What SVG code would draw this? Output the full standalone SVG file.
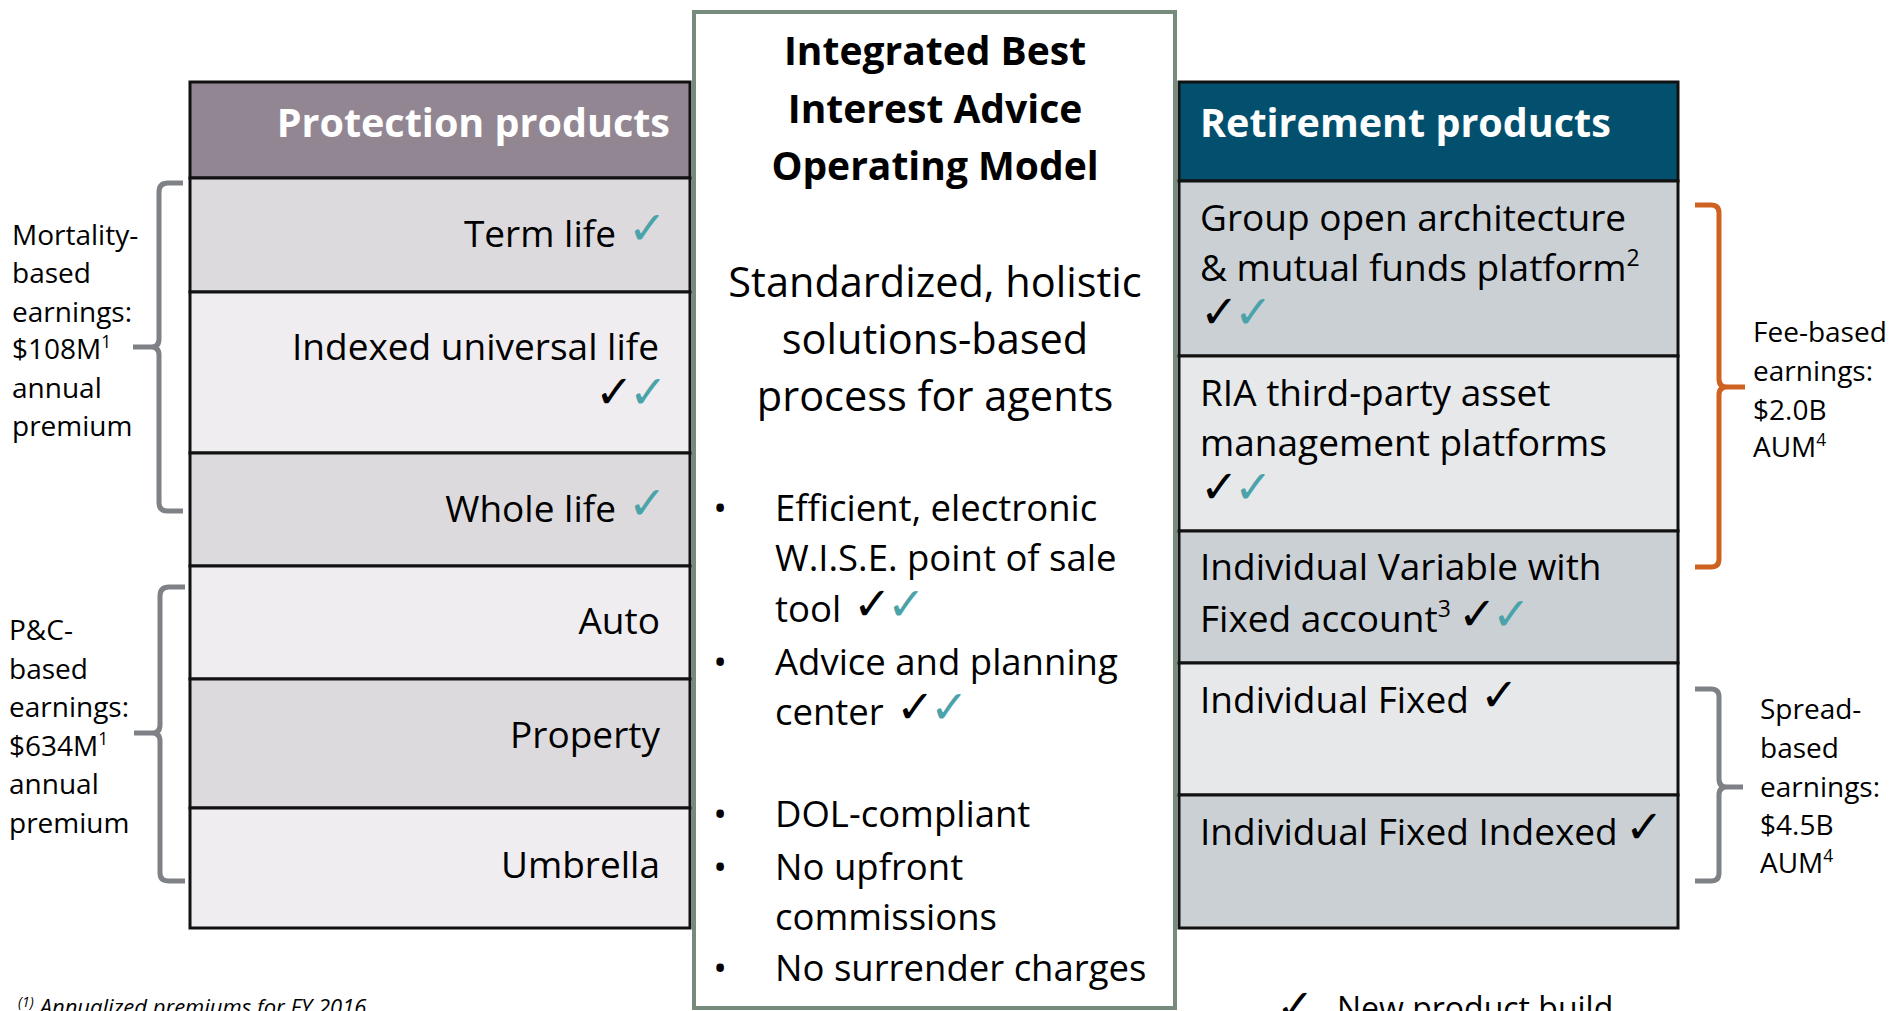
<svg xmlns="http://www.w3.org/2000/svg" width="1889" height="1011" viewBox="0 0 1889 1011">
  <style>
    text { font-family: "Open Sans", "Liberation Sans", sans-serif; fill: #000; }
    .cell { stroke: #111; stroke-width: 3; }
    .hdrL { fill: #928692; }
    .hdrR { fill: #02506E; }
    .ldark { fill: #DCDADD; }
    .llight { fill: #EFEDF0; }
    .rdark { fill: #CBD0D5; }
    .rlight { fill: #E7E8EA; }
    .hdrtxt { font-weight: bold; font-size: 39.5px; fill: #fff; }
    .item { font-size: 37px; }
    .side { font-size: 28px; }
    .title { font-weight: bold; font-size: 39px; }
    .intro { font-size: 41.5px; }
    .bul { font-size: 36.5px; }
    .sup { font-size: 0.62em; }
    .ck { font-family: "DejaVu Sans", sans-serif; font-size: 46px; fill: #000; }
    .pair { letter-spacing: -5px; }
    .ckt { font-family: "DejaVu Sans", sans-serif; font-size: 46px; font-weight: 200; fill: #4BA3AA; }
    .brace { fill: none; stroke-width: 5; stroke-linecap: butt; stroke-linejoin: round; }
    .gray { stroke: #7E8286; }
    .orange { stroke: #CF6220; }
  </style>

  <rect width="1889" height="1011" fill="#fff"/>

  <!-- Protection products table -->
  <g id="protection">
    <rect class="cell hdrL" x="190" y="82" width="500" height="96"/>
    <text class="hdrtxt" x="670" y="137" text-anchor="end">Protection products</text>
  </g>
  <g id="term-life">
    <rect class="cell ldark" x="190" y="178" width="500" height="114"/>
    <text class="item" x="616" y="247" text-anchor="end">Term life<tspan class="ckt" x="628" y="244" text-anchor="start">✓</tspan></text>
  </g>
  <g id="indexed-universal-life">
    <rect class="cell llight" x="190" y="292" width="500" height="161"/>
    <text class="item" x="659" y="360" text-anchor="end">Indexed universal life<tspan class="ck pair" x="595" y="408" text-anchor="start">✓</tspan><tspan class="ckt">✓</tspan></text>
  </g>
  <g id="whole-life">
    <rect class="cell ldark" x="190" y="453" width="500" height="113"/>
    <text class="item" x="616" y="522" text-anchor="end">Whole life<tspan class="ckt" x="628" y="519" text-anchor="start">✓</tspan></text>
  </g>
  <g id="auto">
    <rect class="cell llight" x="190" y="566" width="500" height="113"/>
    <text class="item" x="660" y="634" text-anchor="end">Auto</text>
  </g>
  <g id="property">
    <rect class="cell ldark" x="190" y="679" width="500" height="129"/>
    <text class="item" x="660" y="748" text-anchor="end">Property</text>
  </g>
  <g id="umbrella">
    <rect class="cell llight" x="190" y="808" width="500" height="120"/>
    <text class="item" x="660" y="878" text-anchor="end">Umbrella</text>
  </g>

  <!-- Retirement products table -->
  <g id="retirement">
    <rect class="cell hdrR" x="1179" y="82" width="499" height="99"/>
    <text class="hdrtxt" x="1200" y="137">Retirement products</text>
  </g>
  <g id="group-open-architecture">
    <rect class="cell rdark" x="1179" y="181" width="499" height="175"/>
    <text class="item" x="1200" y="231">Group open architecture<tspan x="1200" y="281">&amp; mutual funds platform</tspan><tspan class="sup" dy="-15">2</tspan><tspan class="ck pair" x="1200" y="328">✓</tspan><tspan class="ckt">✓</tspan></text>
  </g>
  <g id="ria-platforms">
    <rect class="cell rlight" x="1179" y="356" width="499" height="175"/>
    <text class="item" x="1200" y="406">RIA third-party asset<tspan x="1200" y="456">management platforms</tspan><tspan class="ck pair" x="1200" y="503">✓</tspan><tspan class="ckt">✓</tspan></text>
  </g>
  <g id="individual-variable">
    <rect class="cell rdark" x="1179" y="531" width="499" height="132"/>
    <text class="item" x="1200" y="580">Individual Variable with<tspan x="1200" y="632">Fixed account</tspan><tspan class="sup" dy="-15">3</tspan><tspan class="ck pair" x="1458" y="630">✓</tspan><tspan class="ckt">✓</tspan></text>
  </g>
  <g id="individual-fixed">
    <rect class="cell rlight" x="1179" y="663" width="499" height="132"/>
    <text class="item" x="1200" y="713">Individual Fixed<tspan class="ck" x="1480" y="711">✓</tspan></text>
  </g>
  <g id="individual-fixed-indexed">
    <rect class="cell rdark" x="1179" y="795" width="499" height="133"/>
    <text class="item" x="1200" y="845">Individual Fixed Indexed<tspan class="ck" x="1625" y="843">✓</tspan></text>
  </g>

  <!-- Central operating model panel -->
  <g id="operating-model">
    <rect x="694" y="12" width="481" height="996" fill="#fff" stroke="#778B7C" stroke-width="4"/>
    <text class="title" x="935" y="65" text-anchor="middle">Integrated Best</text>
    <text class="title" x="935" y="123" text-anchor="middle">Interest Advice</text>
    <text class="title" x="935" y="180" text-anchor="middle">Operating Model</text>
    <text class="intro" x="935" y="297" text-anchor="middle">Standardized, holistic</text>
    <text class="intro" x="935" y="354" text-anchor="middle">solutions-based</text>
    <text class="intro" x="935" y="411" text-anchor="middle">process for agents</text>
    <g class="bul">
      <text x="720" y="521" text-anchor="middle">•</text>
      <text x="775" y="521">Efficient, electronic</text>
      <text x="775" y="571">W.I.S.E. point of sale</text>
      <text x="775" y="622">tool<tspan class="ck pair" x="853" y="620">✓</tspan><tspan class="ckt">✓</tspan></text>
      <text x="720" y="675" text-anchor="middle">•</text>
      <text x="775" y="675">Advice and planning</text>
      <text x="775" y="725">center<tspan class="ck pair" x="896" y="723">✓</tspan><tspan class="ckt">✓</tspan></text>
      <text x="720" y="827" text-anchor="middle">•</text>
      <text x="775" y="827">DOL-compliant</text>
      <text x="720" y="880" text-anchor="middle">•</text>
      <text x="775" y="880">No upfront</text>
      <text x="775" y="930">commissions</text>
      <text x="720" y="981" text-anchor="middle">•</text>
      <text x="775" y="981">No surrender charges</text>
    </g>
  </g>

  <!-- Earnings labels -->
  <g id="mortality-label">
    <text class="side" x="12" y="245">Mortality-</text>
    <text class="side" x="12" y="283">based</text>
    <text class="side" x="12" y="322">earnings:</text>
    <text class="side" x="12" y="359">$108M<tspan class="sup" dy="-11">1</tspan></text>
    <text class="side" x="12" y="398">annual</text>
    <text class="side" x="12" y="436">premium</text>
  </g>
  <g id="pc-label">
    <text class="side" x="9" y="640">P&amp;C-</text>
    <text class="side" x="9" y="679">based</text>
    <text class="side" x="9" y="717">earnings:</text>
    <text class="side" x="9" y="756">$634M<tspan class="sup" dy="-11">1</tspan></text>
    <text class="side" x="9" y="794">annual</text>
    <text class="side" x="9" y="833">premium</text>
  </g>
  <g id="fee-label">
    <text class="side" x="1753" y="342">Fee-based</text>
    <text class="side" x="1753" y="381">earnings:</text>
    <text class="side" x="1753" y="420">$2.0B</text>
    <text class="side" x="1753" y="457">AUM<tspan class="sup" dy="-11">4</tspan></text>
  </g>
  <g id="spread-label">
    <text class="side" x="1760" y="719">Spread-</text>
    <text class="side" x="1760" y="758">based</text>
    <text class="side" x="1760" y="797">earnings:</text>
    <text class="side" x="1760" y="835">$4.5B</text>
    <text class="side" x="1760" y="873">AUM<tspan class="sup" dy="-11">4</tspan></text>
  </g>

  <!-- Braces grouping rows -->
  <g id="braces">
    <path class="brace gray" d="M183,183 H168 Q159,183 159,192 V339 Q159,347 151,347 H133 M151,347 Q159,347 159,355 V503 Q159,511 168,511 H183"/>
    <path class="brace gray" d="M185,587 H169 Q160,587 160,596 V725 Q160,733 152,733 H134 M152,733 Q160,733 160,741 V873 Q160,881 169,881 H185"/>
    <path class="brace orange" d="M1695,205 H1711 Q1719,205 1719,213 V379 Q1719,387 1727,387 H1745 M1727,387 Q1719,387 1719,395 V559 Q1719,567 1711,567 H1695"/>
    <path class="brace gray" d="M1695,689 H1711 Q1719,689 1719,697 V779 Q1719,787 1727,787 H1743 M1727,787 Q1719,787 1719,795 V873 Q1719,881 1711,881 H1695"/>
  </g>

  <!-- Legend and footnote -->
  <g id="legend">
    <text x="1337" y="1020" font-size="32"><tspan class="ck" x="1276" y="1022">✓</tspan><tspan x="1337" y="1020">New product build</tspan></text>
  </g>
  <g id="footnote">
    <text x="18" y="1015" font-size="22" font-style="italic"><tspan font-size="14" dy="-8">(1)</tspan><tspan dx="6" dy="8">Annualized premiums for FY 2016</tspan></text>
  </g>
</svg>
